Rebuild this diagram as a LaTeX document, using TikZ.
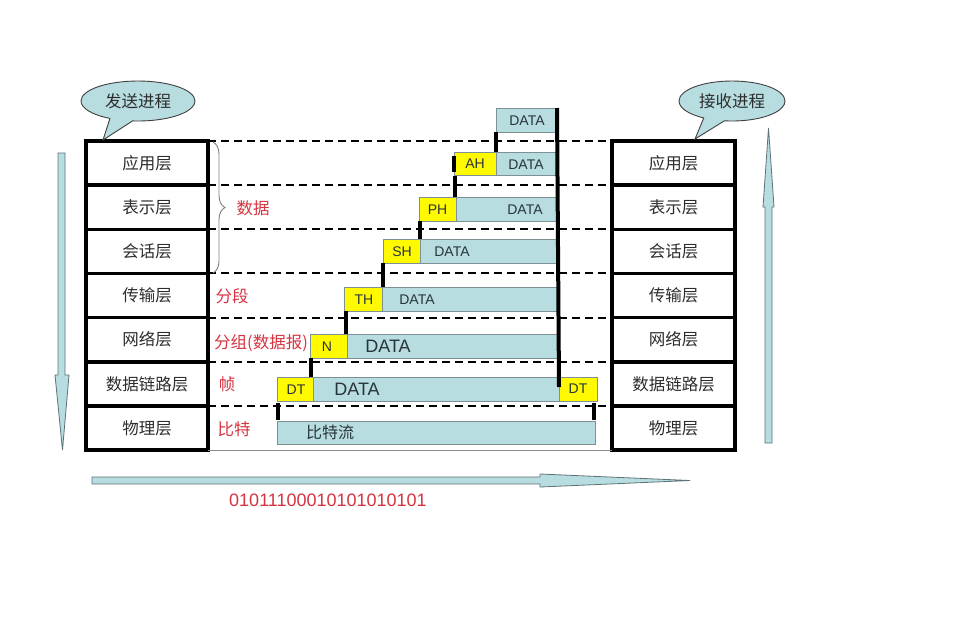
\documentclass[tikz,border=0pt]{standalone}
\usepackage{fontspec}
\setmainfont{Liberation Sans}
\newfontfamily\cjk{Noto Sans CJK SC}
\usetikzlibrary{shapes.callouts,decorations.pathreplacing,calc}
\definecolor{pkt}{RGB}{183,221,224}
\definecolor{pktb}{RGB}{125,145,148}
\definecolor{hdr}{RGB}{255,250,0}
\definecolor{lbl}{RGB}{214,52,64}
\definecolor{txt}{RGB}{45,45,45}
\definecolor{dtxt}{RGB}{40,52,60}
\definecolor{arrb}{RGB}{95,115,118}
\begin{document}
\begin{tikzpicture}[x=1pt,y=-1pt,
  layerbox/.style={draw=black,line width=3.5pt,minimum width=122pt,minimum height=44.15pt,inner sep=0pt,outer sep=0pt,anchor=north west,font=\cjk\fontsize{16.5}{18}\selectfont,text=txt},
  pktbox/.style={draw=pktb,fill=pkt,line width=0.9pt,inner sep=0pt,outer sep=0pt,anchor=north west},
  hdrbox/.style={draw=pktb,fill=hdr,line width=0.9pt,inner sep=0pt,outer sep=0pt,anchor=north west},
  smalltxt/.style={font=\fontsize{14}{16}\selectfont,text=dtxt,inner sep=0pt},
  bigtxt/.style={font=\fontsize{18}{20}\selectfont,text=dtxt,inner sep=0pt},
  cjktxt/.style={font=\cjk\fontsize{16}{18}\selectfont,text=dtxt,inner sep=0pt},
  redtxt/.style={font=\cjk\fontsize{16.5}{18}\selectfont,text=lbl,inner sep=0pt},
  layerdash/.style={draw=black,line width=2pt,dash pattern=on 8pt off 5pt},
  conn/.style={draw=black,line width=4pt},
  arrowshape/.style={draw=arrb,fill=pkt,line width=0.8pt,line join=miter},
  bubble/.style={ellipse callout,draw=black!75,fill=pkt,line width=0.9pt,minimum width=114pt,minimum height=40pt,inner sep=0pt,callout pointer arc=24,font=\cjk\fontsize{16.5}{18}\selectfont,text=txt}
]
\useasboundingbox (0,0) rectangle (955,630);
\fill[white] (0,0) rectangle (955,630);

% arrows
\draw[arrowshape] (58,153) -- (65,153) -- (65,375) -- (69,375) -- (62.5,450) -- (55,375) -- (58,375) -- cycle;
\draw[arrowshape] (765,443) -- (772,443) -- (772,207) -- (774,207) -- (768.5,128) -- (763,207) -- (765,207) -- cycle;
\draw[arrowshape] (92,477) -- (540,477) -- (540,474) -- (690,480.5) -- (540,487) -- (540,484) -- (92,484) -- cycle;

% stacks
\foreach \i/\t in {1/应用层,2/表示层,3/会话层,4/传输层,5/网络层,6/数据链路层,7/物理层}{
  \node[layerbox] (L\i) at (86,{141+44.15*(\i-1)}) {\t};
  \node[layerbox,minimum width=123pt] (R\i) at (612,{141+44.15*(\i-1)}) {\t};
}
\foreach \i in {1,...,7}{
  \draw[layerdash] (L\i.north east) -- (R\i.north west);
}
\draw[draw=black!45,line width=0.8pt] (L7.south east) -- (R7.south west);

% bubbles
\node[bubble,callout absolute pointer={(103,140)}] (send) at (138,101) {发送进程};
\node[bubble,minimum width=106pt,callout absolute pointer={(695,139)}] (recv) at (732,101) {接收进程};

% brace
\coordinate (bt) at (213,142);
\coordinate (bb) at (213,273);
\draw[decorate,decoration={brace,amplitude=12pt},draw=black!50,line width=0.9pt] (bt) -- (bb);

% red labels
\node[redtxt] (lab1) at (253,208) {数据};
\node[redtxt] (lab2) at (232,296) {分段};
\node[redtxt] (lab3) at (261,343) {分组(数据报)};
\node[redtxt] (lab4) at (227,384) {帧};
\node[redtxt] (lab5) at (234,429) {比特};

% packets
\node[pktbox,minimum width=61pt,minimum height=24pt] (d1) at (496,108) {};
\node[hdrbox,minimum width=42pt,minimum height=23pt] (ah) at (454,152) {};
\node[pktbox,minimum width=61pt,minimum height=23pt] (d2) at (496,152) {};
\node[hdrbox,minimum width=37pt,minimum height=24pt] (ph) at (419,197) {};
\node[pktbox,minimum width=101pt,minimum height=24pt] (d3) at (456,197) {};
\node[hdrbox,minimum width=37pt,minimum height=24pt] (sh) at (383,239) {};
\node[pktbox,minimum width=137pt,minimum height=24pt] (d4) at (420,239) {};
\node[hdrbox,minimum width=38pt,minimum height=24pt] (th) at (344,287) {};
\node[pktbox,minimum width=175pt,minimum height=24pt] (d5) at (382,287) {};
\node[hdrbox,minimum width=37pt,minimum height=24pt] (nh) at (310,334) {};
\node[pktbox,minimum width=210pt,minimum height=24pt] (d6) at (347,334) {};
\node[hdrbox,minimum width=36pt,minimum height=24pt] (dt) at (277,377) {};
\node[pktbox,minimum width=246pt,minimum height=24pt] (d7) at (313,377) {};
\node[hdrbox,minimum width=38pt,minimum height=24pt] (dtt) at (559,377) {};
\node[pktbox,minimum width=318pt,minimum height=23pt] (bits) at (277,421) {};

% packet texts
\node[smalltxt] (t1) at (527,121) {DATA};
\node[smalltxt] (t2a) at (475,164) {AH};
\node[smalltxt] (t2) at (526,164.5) {DATA};
\node[smalltxt] (t3a) at (437.5,209.5) {PH};
\node[smalltxt] (t3) at (525,210) {DATA};
\node[smalltxt] (t4a) at (402,252) {SH};
\node[smalltxt] (t4) at (452,252) {DATA};
\node[smalltxt] (t5a) at (364,299.5) {TH};
\node[smalltxt] (t5) at (417,300) {DATA};
\node[smalltxt] (t6a) at (327,346.5) {N};
\node[bigtxt] (t6) at (388,346.5) {DATA};
\node[smalltxt] (t7a) at (296,389.5) {DT};
\node[bigtxt] (t7) at (357,389) {DATA};
\node[smalltxt] (t7b) at (578,389) {DT};
\node[cjktxt] (t8) at (330,432.5) {比特流};

% connectors
\draw[conn] (d1.south west) -- (d1.south west |- ah.north);
\draw[conn] ([yshift=-4pt]ah.north west) -- ([yshift=3pt]ah.south west);
\draw[conn] ([xshift=1pt,yshift=-1pt]ah.south west) -- ([xshift=1pt]ah.south west |- ph.north);
\draw[conn] ([xshift=1pt]ph.south west) -- ([xshift=1pt]ph.south west |- sh.north);
\draw[conn] (sh.south west) -- (sh.south west |- th.north);
\draw[conn] ([xshift=1.5pt]th.south west) -- ([xshift=1.5pt]th.south west |- nh.north);
\draw[conn] ([xshift=1pt]nh.south west) -- ([xshift=1pt]nh.south west |- dt.north);
\draw[conn] (d1.north east) -- ([yshift=-10pt]dtt.north west);
\draw[conn] ([xshift=1pt,yshift=-2pt]dt.south west) -- ([xshift=1pt,yshift=1pt]bits.north west);
\draw[conn] ([xshift=-1pt,yshift=1pt]bits.north east) -- ([xshift=-1pt,yshift=-2pt]bits.north east |- dtt.south);

% bit string
\node[font=\fontsize{18}{20}\selectfont,text=lbl,inner sep=0pt] (bitstr) at (328,500.5) {01011100010101010101};
\end{tikzpicture}
\end{document}
